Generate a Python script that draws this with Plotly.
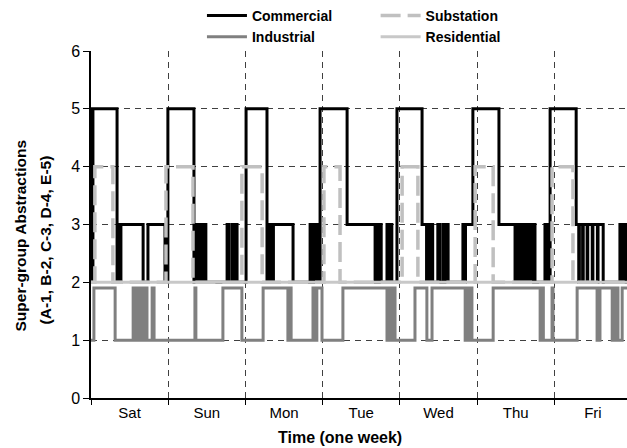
import plotly.graph_objects as go

# ---------------- data (time in hours from start of week) ----------------
days = ["Sat", "Sun", "Mon", "Tue", "Wed", "Thu", "Fri"]
day_centers = [12, 36, 60, 84, 108, 132, 156]
day_bounds = [0, 24, 48, 72, 96, 120, 144]
y_ticks = [0, 1, 2, 3, 4, 5, 6]

commercial_t = [0.0, 0.2, 0.4, 0.6, 8.1, 8.5, 8.9, 9.3, 16.2, 17.7, 23.0, 23.9,
                32.0, 32.6, 33.0, 33.4, 33.8, 34.2, 34.6, 35.0, 35.7,
                42.3, 42.8, 43.8, 44.3, 44.8, 45.4, 48.2,
                54.7, 55.0, 55.4, 55.8, 56.2, 56.7, 62.8,
                68.1, 68.5, 69.0, 69.5, 70.0, 70.6, 71.2,
                79.6, 88.3, 88.7, 89.2, 89.7, 90.2, 92.0, 92.5, 93.0, 93.5, 95.1,
                102.9, 104.3, 104.6, 105.5, 105.8, 106.2, 107.8, 108.4,
                109.4, 110.0, 110.5, 111.0, 115.6, 116.0, 116.4, 118.7,
                126.8, 131.8, 132.2, 132.7, 133.3, 133.8, 134.4, 134.9,
                135.8, 136.4, 137.2, 138.0, 141.1, 141.5, 142.0, 142.4, 142.7,
                150.8, 151.6, 151.8, 152.8, 153.0, 154.2, 154.4, 155.8, 156.0,
                157.4, 157.6, 159.2, 164.4, 164.8, 165.3, 165.8, 166.2, 167.0]
commercial_v = [2, 5, 2, 5, 2, 3, 2, 3, 2, 3, 2, 5,
                2, 3, 2, 3, 2, 3, 2, 3, 2,
                3, 2, 3, 2, 3, 2, 5,
                2, 3, 2, 3, 2, 3, 2,
                3, 2, 3, 2, 3, 2, 5,
                3, 2, 3, 2, 3, 2, 3, 2, 3, 2, 5,
                3, 2, 3, 2, 3, 2, 3, 2,
                3, 2, 3, 2, 3, 2, 3, 5,
                3, 2, 3, 2, 3, 2, 3, 2,
                3, 2, 3, 2, 3, 2, 3, 2, 5,
                3, 2, 3, 2, 3, 2, 3, 2, 3,
                2, 3, 2, 3, 2, 3, 2, 3, 3]

substation_t = [0.0, 1.2, 6.8, 23.3, 31.7, 46.9, 53.2, 72.4, 77.4,
                96.7, 101.6, 119.4, 125.0, 143.3, 149.8, 167.0]
substation_v = [2, 4, 2, 4, 2, 4, 2, 4, 2, 4, 2, 4, 2, 4, 2, 2]

industrial_t = [0.0, 0.9, 7.5, 13.1, 13.6, 14.3, 15.0, 15.6, 16.2, 16.8, 17.4,
                19.0, 19.6, 32.3, 32.6, 33.0, 41.0, 46.9, 53.5,
                61.2, 61.6, 62.2, 69.0, 69.5, 70.2, 71.8, 78.3,
                92.0, 92.5, 93.0, 93.6, 94.5, 100.7, 104.4, 106.0,
                116.3, 116.8, 117.4, 117.9, 118.4, 125.0,
                139.6, 140.1, 140.6, 143.3, 143.6, 151.1, 157.3, 158.2,
                162.0, 162.9, 163.8, 165.1, 167.0]
industrial_v = [1, 1.9, 1, 1.9, 1, 1.9, 1, 1.9, 1, 1.9, 1,
                1.9, 1, 1.9, 1, 1, 1.9, 1, 1.9,
                1, 1.9, 1, 1.9, 1, 1.9, 1, 1.9,
                1, 1.9, 1, 1.9, 1, 1.9, 1, 1.9,
                1, 1.9, 1, 1.9, 1, 1.9,
                1, 1.9, 1, 1.9, 1, 1.9, 1, 1.9,
                1, 1.9, 1, 1.9, 1.9]

residential_t = [0.0, 167.0]
residential_v = [2, 2]

# ---------------- figure ----------------
FONT = "Liberation Sans, Arial, sans-serif"
fig = go.Figure()

fig.add_trace(go.Scatter(x=commercial_t, y=commercial_v, mode="lines", name="Commercial",
                         line=dict(shape="hv", color="black", width=3), legend="legend"))
fig.add_trace(go.Scatter(x=substation_t, y=substation_v, mode="lines", name="Substation",
                         line=dict(shape="hv", color="#c0c0c0", width=3.5, dash="20px,7px"),
                         legend="legend2"))
fig.add_trace(go.Scatter(x=industrial_t, y=industrial_v, mode="lines", name="Industrial",
                         line=dict(shape="hv", color="#808080", width=3), legend="legend"))
fig.add_trace(go.Scatter(x=residential_t, y=residential_v, mode="lines", name="Residential",
                         line=dict(shape="hv", color="#c8c8c8", width=3), legend="legend2"))

grid = dict(gridcolor="#404040", gridwidth=1, griddash="6px,5px")

fig.update_layout(
    width=627, height=448,
    margin=dict(l=91, r=0, t=50, b=50),
    plot_bgcolor="white", paper_bgcolor="white",
    font=dict(family=FONT, color="black"),
    hovermode=False,
    xaxis=dict(range=[0, 166.6], tickmode="array", tickvals=day_centers, ticktext=days,
               ticks="", showgrid=False, zeroline=False,
               showline=True, linecolor="black", linewidth=1.5,
               tickfont=dict(size=15, family=FONT),
               minor=dict(tickmode="array", tickvals=day_bounds, ticks="outside", ticklen=5,
                          tickcolor="black", showgrid=True, **grid)),
    yaxis=dict(range=[0, 6], tickmode="array", tickvals=y_ticks, ticks="outside", ticklen=6,
               tickcolor="black", showgrid=True, zeroline=False,
               showline=True, linecolor="black", linewidth=1.5,
               tickfont=dict(size=16, family=FONT), **grid),
    legend=dict(x=0.207, y=1.147, xanchor="left", yanchor="top", orientation="v",
                font=dict(size=14, family=FONT, weight="bold"), bgcolor="rgba(0,0,0,0)",
                itemwidth=40, tracegroupgap=0),
    legend2=dict(x=0.531, y=1.147, xanchor="left", yanchor="top", orientation="v",
                 font=dict(size=14, family=FONT, weight="bold"), bgcolor="rgba(0,0,0,0)",
                 itemwidth=40, tracegroupgap=0),
    showlegend=True,
)

fig.add_annotation(text="Time (one week)", xref="paper", yref="paper",
                   x=(340 - 91) / 536, y=-(438 - 398) / 348, xanchor="center", yanchor="middle",
                   showarrow=False, font=dict(size=16, family=FONT, weight="bold"))
fig.add_annotation(text="Super-group Abstractions", xref="paper", yref="paper",
                   x=-(91 - 20) / 536, y=(398 - 236) / 348, xanchor="center", yanchor="middle",
                   textangle=-90, showarrow=False, font=dict(size=15.5, family=FONT, weight="bold"))
fig.add_annotation(text="(A-1, B-2, C-3, D-4, E-5)", xref="paper", yref="paper",
                   x=-(91 - 45) / 536, y=(398 - 240) / 348, xanchor="center", yanchor="middle",
                   textangle=-90, showarrow=False, font=dict(size=15.5, family=FONT, weight="bold"))

fig.write_html("out.html")
